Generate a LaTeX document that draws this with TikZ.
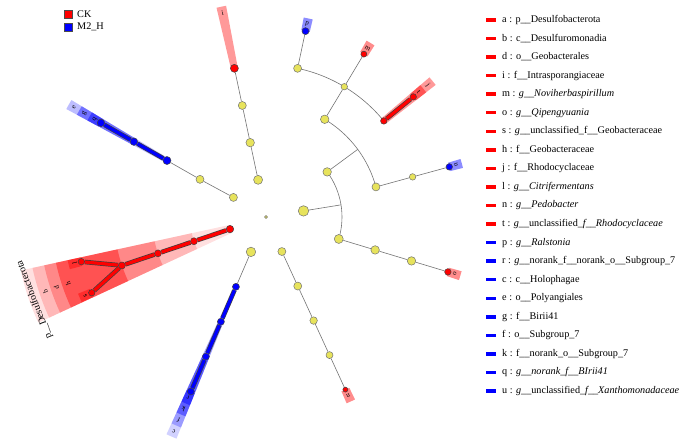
\documentclass[tikz,border=0pt]{standalone}
\usepackage{fontspec}
\setmainfont{Liberation Serif}
\usetikzlibrary{backgrounds}

\definecolor{nodeyel}{RGB}{231,227,92}

\tikzset{
  ynode/.style={circle, draw=black!55, fill=nodeyel, inner sep=0pt, line width=0.5pt},
  rnode/.style={circle, draw=black!75, fill=red, inner sep=0pt, line width=0.5pt},
  bnode/.style={circle, draw=black!75, fill=blue, inner sep=0pt, line width=0.5pt},
  branch/.style={draw=black!55, line width=0.6pt},
  hlred/.style={draw=red, line width=3.2pt, preaction={draw=black!75, line width=4.6pt}},
  hlblue/.style={draw=blue, line width=3.2pt, preaction={draw=black!75, line width=4.6pt}},
  lab/.style={font=\fontsize{7}{8}\selectfont, inner sep=0pt},
  legtxt/.style={font=\fontsize{10.2}{12}\selectfont, anchor=west, inner sep=0pt},
}

\begin{document}
\begin{tikzpicture}[x=1pt, y=1pt]
    \useasboundingbox (-266,-224) rectangle (434,217);

    % root
    \node[ynode, minimum size=3pt] (root) at (0,0) {};

    % Actinobacteriota (top)
    \node[ynode, minimum size=9pt] (act1) at (102:38) {};
    \node[ynode, minimum size=8.5pt] (act2) at (102:76) {};
    \node[ynode, minimum size=8pt] (act3) at (102:114) {};
    \node[rnode, minimum size=8pt] (i) at (102:152) {};

    % Myxococcota (upper left)
    \node[ynode, minimum size=8pt] (myx1) at (149:38) {};
    \node[ynode, minimum size=8pt] (myx2) at (150.3:76) {};
    \node[bnode, minimum size=8pt] (e) at (150.3:114) {};
    \node[bnode, minimum size=7.5pt] (g) at (150.3:152) {};
    \node[bnode, minimum size=7.5pt] (q) at (150.3:190) {};

    % Desulfobacterota (left)
    \node[rnode, minimum size=7.5pt] (a) at (198.6:38) {};
    \node[rnode, minimum size=7pt] (b) at (198.6:76) {};
    \node[rnode, minimum size=7pt] (d) at (198.6:114) {};
    \node[rnode, minimum size=7pt] (h) at (198.6:152) {};
    \node[rnode, minimum size=6.5pt] (l) at (193.6:190) {};
    \node[rnode, minimum size=6.5pt] (s) at (203.5:190) {};

    % Acidobacteriota (lower left)
    \node[ynode, minimum size=9.5pt] (aci1) at (246.7:38) {};
    \node[bnode, minimum size=7pt] (c) at (246.7:76) {};
    \node[bnode, minimum size=7pt] (f) at (246.7:114) {};
    \node[bnode, minimum size=7pt] (k) at (246.7:152) {};
    \node[bnode, minimum size=7pt] (r) at (246.7:190) {};

    % Bacteroidota (lower right)
    \node[ynode, minimum size=8pt] (bac1) at (294.7:38) {};
    \node[ynode, minimum size=8pt] (bac2) at (294.7:76) {};
    \node[ynode, minimum size=7.5pt] (bac3) at (294.7:114) {};
    \node[ynode, minimum size=7pt] (bac4) at (294.7:152) {};
    \node[rnode, minimum size=5pt] (n) at (294.7:190) {};

    % Proteobacteria (right)
    \node[ynode, minimum size=10.5pt] (pro1) at (9.2:38) {};
    \node[ynode, minimum size=9pt] (alp2) at (343.2:76) {};
    \node[ynode, minimum size=8.5pt] (alp3) at (343.2:114) {};
    \node[ynode, minimum size=8.5pt] (alp4) at (343.2:152) {};
    \node[rnode, minimum size=6.5pt] (o) at (343.2:190) {};
    \node[ynode, minimum size=8.5pt] (gam2) at (36.4:76) {};
    \node[ynode, minimum size=8pt] (xan3) at (15.3:114) {};
    \node[ynode, minimum size=6.5pt] (xan4) at (15.3:152) {};
    \node[bnode, minimum size=6.5pt] (u) at (15.3:190) {};
    \node[ynode, minimum size=8.5pt] (bur3) at (59:114) {};
    \node[ynode, minimum size=6.5pt] (oxa4) at (59:152) {};
    \node[rnode, minimum size=6pt] (m) at (59:190) {};
    \node[ynode, minimum size=8pt] (bur4) at (78:152) {};
    \node[bnode, minimum size=7pt] (p) at (78:190) {};
    \node[rnode, minimum size=6.5pt] (j) at (39.2:152) {};
    \node[rnode, minimum size=6.5pt] (t) at (39.2:190) {};

    \coordinate (pro-j) at (9.2:76);
    \coordinate (gam-j) at (36.4:114);

    \begin{scope}[on background layer]
        % Desulfobacterota shading
        \foreach \ri/\ro/\op in {38/251/0.12, 76/239/0.18, 114/227/0.26, 152/215/0.4} {
            \fill[red, fill opacity=\op] (192.3:\ri) arc[start angle=192.3, end angle=204.9, radius=\ri pt]
                -- (204.9:\ro) arc[start angle=204.9, end angle=192.3, radius=\ro pt] -- cycle;
        }

        % single strips
        \foreach \t/\ri/\ro/\clr/\op in {102/152/215/red/0.4,
            246.7/76/239/blue/0.18, 246.7/114/227/blue/0.26, 246.7/152/215/blue/0.4, 246.7/190/203/blue/0.45,
            150.3/114/227/blue/0.26, 150.3/152/215/blue/0.4, 150.3/190/203/blue/0.45,
            193.6/190/203/red/0.45, 203.5/190/203/red/0.45,
            294.7/190/203/red/0.45, 343.2/190/203/red/0.45, 15.3/190/203/blue/0.45,
            78/190/203/blue/0.45, 59/190/203/red/0.45, 39.2/152/215/red/0.4, 39.2/190/203/red/0.45} {
            \fill[\clr, fill opacity=\op] (\t-1.3:\ri) arc[start angle=\t-1.3, end angle=\t+1.3, radius=\ri pt]
                -- (\t+1.3:\ro) arc[start angle=\t+1.3, end angle=\t-1.3, radius=\ro pt] -- cycle;
        }

        % branches
        \draw[branch] (act1) -- (act2);
        \draw[branch] (act2) -- (act3);
        \draw[branch] (act3) -- (i);
        \draw[branch] (myx1) -- (myx2);
        \draw[branch] (myx2) -- (e);
        \draw[hlblue] (e) -- (g);
        \draw[hlblue] (g) -- (q);
        \draw[hlred] (a) -- (b);
        \draw[hlred] (b) -- (d);
        \draw[hlred] (d) -- (h);
        \draw[hlred] (h) -- (l);
        \draw[hlred] (h) -- (s);
        \draw[branch] (aci1) -- (c);
        \draw[hlblue] (c) -- (f);
        \draw[hlblue] (f) -- (k);
        \draw[hlblue] (k) -- (r);
        \draw[branch] (bac1) -- (bac2);
        \draw[branch] (bac2) -- (bac3);
        \draw[branch] (bac3) -- (bac4);
        \draw[branch] (bac4) -- (n);
        \draw[branch] (pro1) -- (pro-j);
        \draw[branch] (343.2:76) arc[start angle=343.2, end angle=396.4, radius=76pt];
        \draw[branch] (alp2) -- (alp3);
        \draw[branch] (alp3) -- (alp4);
        \draw[branch] (alp4) -- (o);
        \draw[branch] (gam2) -- (gam-j);
        \draw[branch] (15.3:114) arc[start angle=15.3, end angle=59, radius=114pt];
        \draw[branch] (xan3) -- (xan4);
        \draw[branch] (xan4) -- (u);
        \draw[branch] (bur3) -- (oxa4);
        \draw[branch] (oxa4) -- (m);
        \draw[branch] (39.2:152) arc[start angle=39.2, end angle=78, radius=152pt];
        \draw[branch] (bur4) -- (p);
        \draw[hlred] (j) -- (t);
    \end{scope}

    % clade letters
    \foreach \t/\r/\lt in {102/209/i, 246.7/233/c, 246.7/221/f, 246.7/209/k, 246.7/197/r,
        150.3/221/e, 150.3/209/g, 150.3/197/q, 198.6/233/b, 198.6/221/d, 198.6/209/h,
        193.6/197/l, 203.5/197/s, 294.7/197/n, 343.2/197/o, 15.3/197/u, 78/197/p,
        59/197/m, 39.2/197/t, 39.2/209/j} {
        \node[lab, rotate=\t-90] (lab-\lt) at (\t:\r) {\lt};
    }
    \node[font=\fontsize{10}{11}\selectfont, rotate=111, inner sep=0pt] (lab-a) at (199.7:246) {p\_\_Desulfobacterota};

    % group legend
    \node[draw=black!70, fill=red, minimum size=8pt, inner sep=0pt] (ck) at (-198,203) {};
    \node[legtxt] (ck-txt) at (-189,203) {CK};
    \node[draw=black!70, fill=blue, minimum size=8pt, inner sep=0pt] (m2h) at (-198,190) {};
    \node[legtxt] (m2h-txt) at (-189,190) {M2\_H};

    % clade legend
    \foreach \clr/\txt [count=\i from 0] in {
        red/{a : p\_\_Desulfobacterota},
        red/{b : c\_\_Desulfuromonadia},
        red/{d : o\_\_Geobacterales},
        red/{i : f\_\_Intrasporangiaceae},
        red/{m : \textit{g\_\_Noviherbaspirillum}},
        red/{o : \textit{g\_\_Qipengyuania}},
        red/{s : \textit{g}\_\_unclassified\_f\_\_Geobacteraceae},
        red/{h : f\_\_Geobacteraceae},
        red/{j : f\_\_Rhodocyclaceae},
        red/{l : \textit{g\_\_Citrifermentans}},
        red/{n : \textit{g\_\_Pedobacter}},
        red/{t : \textit{g}\_\_unclassified\_\textit{f\_\_Rhodocyclaceae}},
        blue/{p : \textit{g\_\_Ralstonia}},
        blue/{r : \textit{g}\_\_norank\_f\_\_norank\_o\_\_Subgroup\_7},
        blue/{c : c\_\_Holophagae},
        blue/{e : o\_\_Polyangiales},
        blue/{g : f\_\_Birii41},
        blue/{f : o\_\_Subgroup\_7},
        blue/{k : f\_\_norank\_o\_\_Subgroup\_7},
        blue/{q : \textit{g\_\_norank\_f\_\_BIrii41}},
        blue/{u : \textit{g}\_\_unclassified\_\textit{f\_\_Xanthomonadaceae}}} {
        \node[fill=\clr, minimum width=10pt, minimum height=3.5pt, inner sep=0pt] (bar\i) at (225,197-18.55*\i) {};
        \node[legtxt] (key\i) at (236,197-18.55*\i) {\txt};
    }
\end{tikzpicture}
\end{document}
